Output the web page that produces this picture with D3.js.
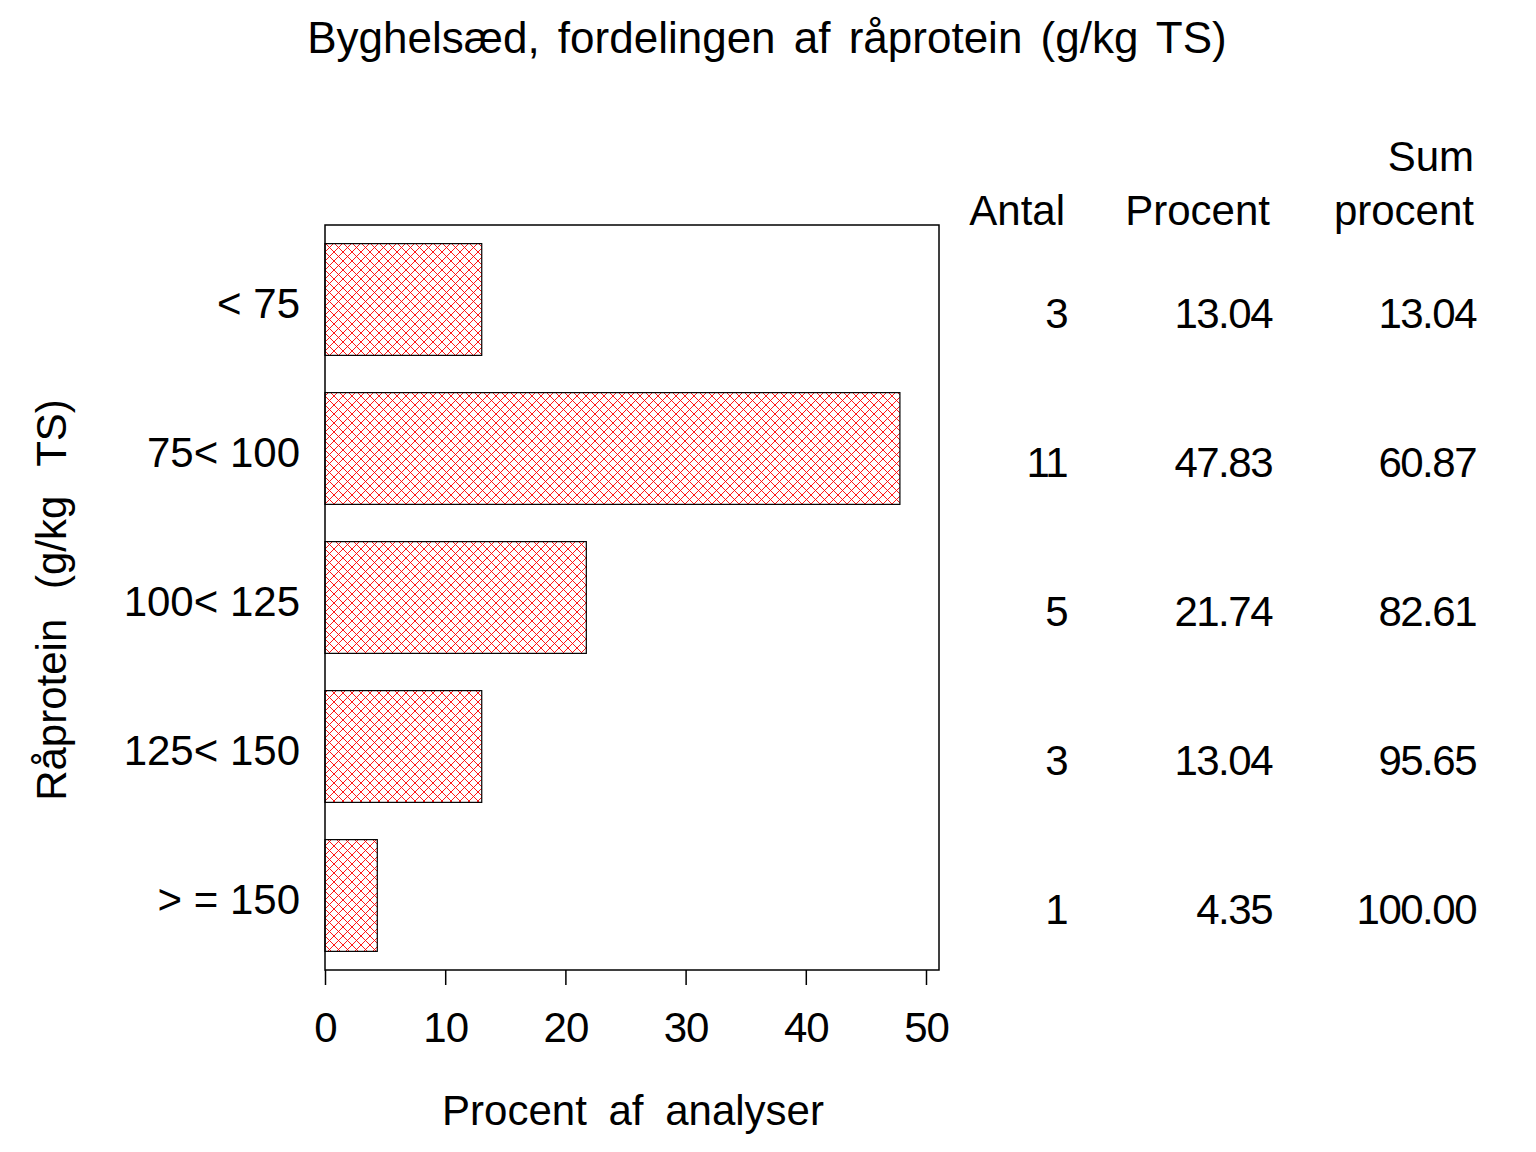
<!DOCTYPE html>
<html>
<head>
<meta charset="utf-8">
<script src="https://cdn.jsdelivr.net/npm/d3@7"></script>
<style>
  body { margin: 0; background: #fff; }
  text { font-family: "Liberation Sans", Arial, sans-serif; fill: #000; }
</style>
</head>
<body>
<svg id="chart" width="1536" height="1152"></svg>
<script>
// data
const categories = ['< 75', '75< 100', '100< 125', '125< 150', '> = 150'];
const antal = [3, 11, 5, 3, 1];
const procent = [13.04, 47.83, 21.74, 13.04, 4.35];
const sumProcent = [13.04, 60.87, 82.61, 95.65, 100.00];
const xTicks = [0, 10, 20, 30, 40, 50];
const tableHeaders = [['Antal'], ['Procent'], ['Sum', 'procent']];

const FONT = 42;
const margin = { left: 325, top: 225 };
const plotW = 614;
const plotH = 745;

const svg = d3.select('#chart');

// crosshatch fill
const defs = svg.append('defs');
const pat = defs.append('pattern')
  .attr('id', 'xhatch')
  .attr('patternUnits', 'userSpaceOnUse')
  .attr('width', 9)
  .attr('height', 9);
pat.append('path')
  .attr('d', 'M0,0 L9,9 M9,0 L0,9 M-1,8 L1,10 M8,-1 L10,1 M-1,1 L1,-1 M8,10 L10,8')
  .attr('stroke', '#ff0000')
  .attr('stroke-width', 0.9)
  .attr('fill', 'none');

const x = d3.scaleLinear().domain([0, 50]).range([0, 601]);
const y = d3.scaleBand().domain(categories).range([0, plotH]).paddingInner(0.25).paddingOuter(0.125);

const g = svg.append('g').attr('transform', `translate(${margin.left}, ${margin.top})`);

// title
svg.append('text')
  .attr('x', 767)
  .attr('y', 53)
  .attr('text-anchor', 'middle')
  .style('font-size', '44px')
  .style('word-spacing', '6px')
  .text('Byghelsæd, fordelingen af råprotein (g/kg TS)');

// bars
g.selectAll('rect.bar')
  .data(procent)
  .enter()
  .append('rect')
    .classed('bar', true)
    .attr('x', 0)
    .attr('y', (d, i) => y(categories[i]))
    .attr('width', d => x(d))
    .attr('height', y.bandwidth())
    .attr('fill', 'url(#xhatch)')
    .attr('stroke', '#000')
    .attr('stroke-width', 1.2);

// frame
g.append('rect')
  .attr('x', 0)
  .attr('y', 0)
  .attr('width', plotW)
  .attr('height', plotH)
  .attr('fill', 'none')
  .attr('stroke', '#000')
  .attr('stroke-width', 1.5);

// x axis
const xAxis = d3.axisBottom(x)
  .tickValues(xTicks)
  .tickSize(15)
  .tickPadding(27)
  .tickSizeOuter(0);

const xg = g.append('g')
  .attr('transform', `translate(0, ${plotH})`)
  .call(xAxis);
xg.select('.domain').remove();
xg.selectAll('line').attr('stroke', '#000').attr('stroke-width', 1.5);
xg.selectAll('text')
  .style('font-size', FONT + 'px')
  .style('font-family', '"Liberation Sans", Arial, sans-serif')
  .style('letter-spacing', '-1px')
  .attr('fill', '#000');

// y axis labels
g.selectAll('text.ylab')
  .data(categories)
  .enter()
  .append('text')
    .classed('ylab', true)
    .attr('x', -25)
    .attr('y', d => y(d) + y.bandwidth() / 2)
    .attr('dy', '0.43em')
    .attr('text-anchor', 'end')
    .attr('xml:space', 'preserve')
    .style('font-size', FONT + 'px')
    .style('white-space', 'pre')
    .text(d => d);

// axis titles
svg.append('text')
  .attr('x', 633)
  .attr('y', 1125)
  .attr('text-anchor', 'middle')
  .style('font-size', FONT + 'px')
  .style('word-spacing', '10px')
  .text('Procent af analyser');

svg.append('text')
  .attr('transform', 'translate(66, 600) rotate(-90)')
  .attr('text-anchor', 'middle')
  .style('font-size', FONT + 'px')
  .style('word-spacing', '18px')
  .text('Råprotein (g/kg TS)');

// table to the right
const colRight = [1067, 1272, 1476];
const columns = [
  antal.map(d => String(d)),
  procent.map(d => d.toFixed(2)),
  sumProcent.map(d => d.toFixed(2)),
];

tableHeaders.forEach((lines, c) => {
  lines.forEach((line, k) => {
    svg.append('text')
      .attr('x', colRight[c] - 2)
      .attr('y', margin.top - (lines.length - 1 - k) * 54)
      .attr('text-anchor', 'end')
      .style('font-size', FONT + 'px')
      .text(line);
  });
});

columns.forEach((vals, c) => {
  svg.selectAll(null)
    .data(vals)
    .enter()
    .append('text')
      .attr('x', colRight[c])
      .attr('y', (d, i) => margin.top + y(categories[i]) + y.bandwidth() / 2 + 28)
      .attr('text-anchor', 'end')
      .style('font-size', FONT + 'px')
      .style('letter-spacing', '-1.5px')
      .text(d => d);
});
</script>
</body>
</html>
